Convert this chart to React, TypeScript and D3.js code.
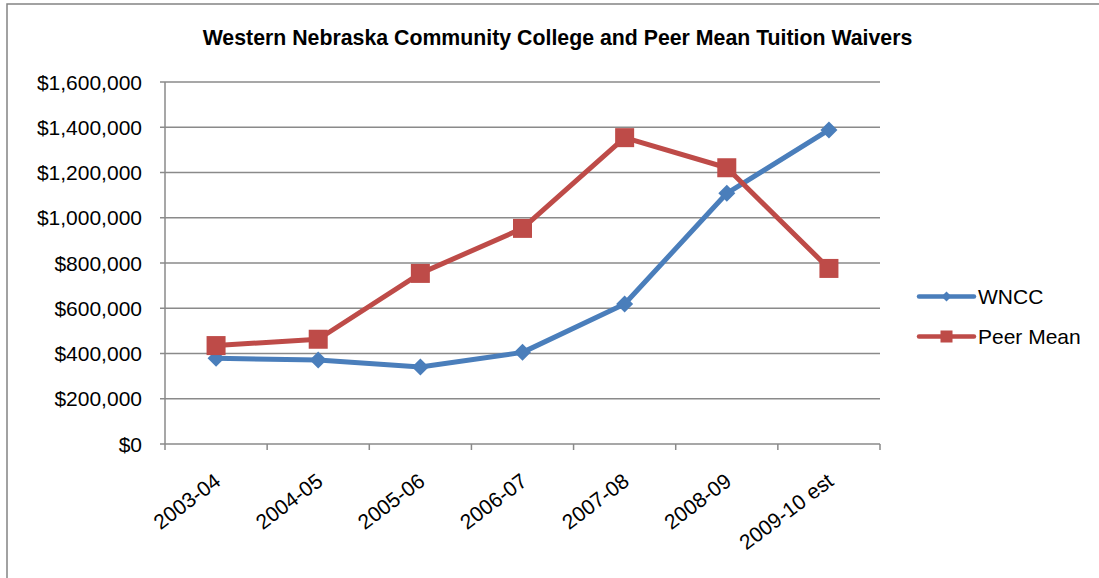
import React from "react";
import * as d3 from "d3";

const categories = ["2003-04", "2004-05", "2005-06", "2006-07", "2007-08", "2008-09", "2009-10 est"];
const wnccValues = [379000, 371000, 340000, 405000, 619000, 1108000, 1388000];
const peerValues = [435000, 463000, 754000, 953000, 1354000, 1221000, 776000];
const yTicks = [0, 200000, 400000, 600000, 800000, 1000000, 1200000, 1400000, 1600000];
const title = "Western Nebraska Community College and Peer Mean Tuition Waivers";
const seriesNames = ["WNCC", "Peer Mean"];

const W = 1099;
const H = 578;
const left = 165;
const right = 880;
const top = 82;
const bottom = 444;
const BLUE = "#4A7EBB";
const RED = "#BE4B48";
const GRID = "#8a8a8a";
const FONT = "Arial, 'Liberation Sans', sans-serif";

export default function App() {
  const x = d3.scaleBand<string>().domain(categories).range([left, right]).paddingInner(0).paddingOuter(0);
  const y = d3.scaleLinear().domain([0, 1600000]).range([bottom, top]);
  const cx = (c: string) => (x(c) as number) + x.bandwidth() / 2;
  const fmt = (v: number) => "$" + d3.format(",")(v);
  const line = d3.line<number>().x((_, i) => cx(categories[i])).y((v) => y(v));
  const diamond = (px: number, py: number, r: number) =>
    `M${px},${py - r}L${px + r},${py}L${px},${py + r}L${px - r},${py}Z`;
  const tickXs = categories.map((c) => x(c) as number).concat([right]);

  return (
    <svg width={W} height={H} style={{ position: "absolute", left: 0, top: 0, background: "#fff" }} fontFamily={FONT}>
      <rect x={7} y={4} width={1200} height={700} fill="#fff" stroke="#848484" strokeWidth={1.5} />
      <text x={557.5} y={45} textAnchor="middle" fontSize={21.3} fontWeight="bold" fill="#000">{title}</text>
      {yTicks.map((t) => (
        <g key={t}>
          <line x1={left} x2={right} y1={y(t)} y2={y(t)} stroke={GRID} strokeWidth={1.5} />
          <line x1={left - 5} x2={left} y1={y(t)} y2={y(t)} stroke={GRID} strokeWidth={1.5} />
          <text x={142} y={y(t)} dy="0.36em" textAnchor="end" fontSize={21} fill="#000">{fmt(t)}</text>
        </g>
      ))}
      <line x1={left} x2={left} y1={top} y2={bottom} stroke={GRID} strokeWidth={1.5} />
      {tickXs.map((tx, i) => (
        <line key={i} x1={tx} x2={tx} y1={bottom} y2={bottom + 6} stroke={GRID} strokeWidth={1.5} />
      ))}
      {categories.map((c) => (
        <text key={c} transform={`translate(${cx(c) + 6},${484}) rotate(-37)`} textAnchor="end" fontSize={21} fill="#000">{c}</text>
      ))}
      <path d={line(wnccValues) || ""} fill="none" stroke={BLUE} strokeWidth={5} strokeLinejoin="round" />
      <path d={line(peerValues) || ""} fill="none" stroke={RED} strokeWidth={5} strokeLinejoin="round" />
      {wnccValues.map((v, i) => (
        <path key={i} d={diamond(cx(categories[i]), y(v), 8.5)} fill={BLUE} />
      ))}
      {peerValues.map((v, i) => (
        <rect key={i} x={cx(categories[i]) - 9.5} y={y(v) - 9.5} width={19} height={19} fill={RED} />
      ))}
      <line x1={919} x2={974} y1={296.5} y2={296.5} stroke={BLUE} strokeWidth={4.5} strokeLinecap="round" />
      <path d={diamond(946.5, 296.5, 5)} fill={BLUE} />
      <text x={978} y={296.5} dy="0.36em" fontSize={21} fill="#000">{seriesNames[0]}</text>
      <line x1={919} x2={974} y1={336.5} y2={336.5} stroke={RED} strokeWidth={4.5} strokeLinecap="round" />
      <rect x={940.5} y={330.5} width={12} height={12} fill={RED} />
      <text x={978} y={336.5} dy="0.36em" fontSize={21} fill="#000">{seriesNames[1]}</text>
    </svg>
  );
}
